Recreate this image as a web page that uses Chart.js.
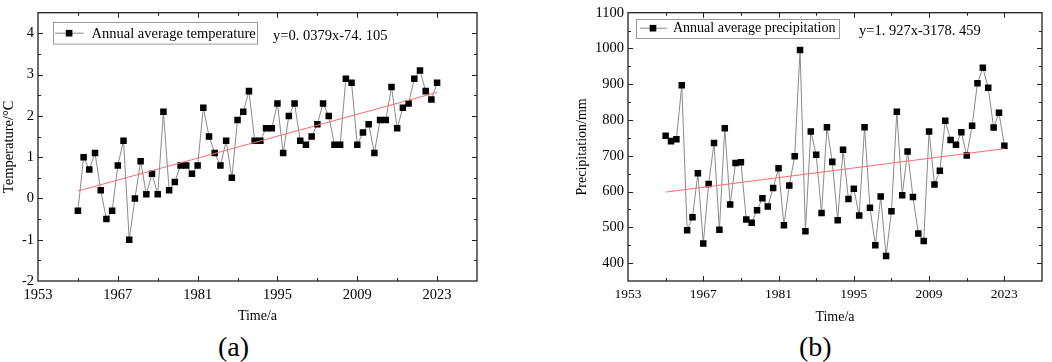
<!DOCTYPE html>
<html>
<head>
<meta charset="utf-8">
<script src="https://cdn.jsdelivr.net/npm/chart.js@4.4.0/dist/chart.umd.min.js"></script>
<style>
  body { margin: 0; background: #fff; width: 1052px; height: 362px; overflow: hidden; position: relative; }
  canvas { position: absolute; top: 0; }
  #tempChart { left: 0; }
  #precipChart { left: 560px; }
  .cap { position: absolute; top: 331px; font: 28px "Liberation Serif", "Times New Roman", serif; line-height: 32px; color: #000; }
</style>
</head>
<body>
<canvas id="tempChart" width="500" height="330"></canvas>
<canvas id="precipChart" width="492" height="330"></canvas>
<div class="cap" style="left:218px">(a)</div>
<div class="cap" style="left:799px">(b)</div>
<script>
const years = [
  1960, 1961, 1962, 1963, 1964, 1965, 1966, 1967, 1968, 1969,
  1970, 1971, 1972, 1973, 1974, 1975, 1976, 1977, 1978, 1979,
  1980, 1981, 1982, 1983, 1984, 1985, 1986, 1987, 1988, 1989,
  1990, 1991, 1992, 1993, 1994, 1995, 1996, 1997, 1998, 1999,
  2000, 2001, 2002, 2003, 2004, 2005, 2006, 2007, 2008, 2009,
  2010, 2011, 2012, 2013, 2014, 2015, 2016, 2017, 2018, 2019,
  2020, 2021, 2022, 2023
]
const temperature = [
  -0.3, 1.0, 0.7, 1.1, 0.2, -0.5, -0.3, 0.8, 1.4, -1.0,
  0.0, 0.9, 0.1, 0.6, 0.1, 2.1, 0.2, 0.4, 0.8, 0.8,
  0.6, 0.8, 2.2, 1.5, 1.1, 0.8, 1.4, 0.5, 1.9, 2.1,
  2.6, 1.4, 1.4, 1.7, 1.7, 2.3, 1.1, 2.0, 2.3, 1.4,
  1.3, 1.5, 1.8, 2.3, 2.0, 1.3, 1.3, 2.9, 2.8, 1.3,
  1.6, 1.8, 1.1, 1.9, 1.9, 2.7, 1.7, 2.2, 2.3, 2.9,
  3.1, 2.6, 2.4, 2.8
]
const precipitation = [
  756, 741, 746, 897, 492, 528, 651, 455, 621, 736,
  493, 777, 564, 680, 682, 522, 513, 548, 581, 558,
  610, 665, 506, 617, 699, 996, 489, 768, 703, 540,
  780, 683, 520, 717, 579, 608, 533, 780, 555, 450,
  586, 420, 545, 823, 590, 712, 585, 483, 462, 768,
  620, 658, 798, 744, 731, 766, 701, 784, 903, 946,
  890, 779, 820, 728
]
// fitted lines, end points only
const trendYears = [1960, 2023]
const tempTrend = [0.18, 2.57]
const precipTrend = [598.5, 719.9]

const yearTicks = [1953, 1967, 1981, 1995, 2009, 2023]
const tempTicks = [-2, -1, 0, 1, 2, 3, 4]
const precipTicks = [400, 500, 600, 700, 800, 900, 1000, 1100]

const serif = '"Liberation Serif", "Times New Roman", serif'

// box, inward ticks on all sides, legend and equation
const framePlugin = {
  id: "frame",
  afterDraw(chart, args, o) {
    const { ctx, chartArea: a, scales: { x, y } } = chart
    ctx.save()
    ctx.strokeStyle = "#222"
    ctx.lineWidth = 1
    ctx.beginPath()
    for (let v = x.min + o.xMinor; v < x.max - 1e-6; v += o.xMinor) {
      const px = Math.round(x.getPixelForValue(v)) + 0.5
      const len = Math.abs((v - x.min) % o.xMajor) < 1e-6 ? 5 : 3
      ctx.moveTo(px, a.bottom); ctx.lineTo(px, a.bottom - len)
      ctx.moveTo(px, a.top); ctx.lineTo(px, a.top + len)
    }
    for (let v = y.min + o.yMinor; v < y.max - 1e-6; v += o.yMinor) {
      const py = Math.round(y.getPixelForValue(v)) + 0.5
      const r = Math.abs(Math.round(v / o.yMajor) * o.yMajor - v) < 1e-6
      const len = r ? 5 : 3
      ctx.moveTo(a.left, py); ctx.lineTo(a.left + len, py)
      ctx.moveTo(a.right, py); ctx.lineTo(a.right - len, py)
    }
    ctx.stroke()
    ctx.lineWidth = 1.3
    ctx.strokeRect(a.left, a.top, a.right - a.left, a.bottom - a.top)

    // legend
    const L = o.legend
    const lx = a.left + L.dx, ly = a.top + L.dy
    ctx.fillStyle = "#fff"
    ctx.fillRect(lx, ly, L.w, L.h)
    ctx.strokeStyle = "#999"
    ctx.lineWidth = 1
    ctx.strokeRect(Math.round(lx) + 0.5, Math.round(ly) + 0.5, L.w, L.h)
    const my = ly + L.h / 2
    ctx.strokeStyle = "#8a8a8a"
    ctx.beginPath()
    ctx.moveTo(lx + L.line[0], my); ctx.lineTo(lx + L.line[1], my)
    ctx.stroke()
    ctx.fillStyle = "#000"
    ctx.fillRect(lx + L.mark - 3.3, my - 3.3, 6.6, 6.6)
    ctx.font = L.size + "px " + serif
    ctx.textBaseline = "middle"
    ctx.textAlign = "left"
    ctx.fillText(L.text, lx + L.textX, my + 0.5)

    // equation
    ctx.font = "14.5px " + serif
    ctx.fillText(o.eq.text, a.left + o.eq.dx, a.top + o.eq.dy)
    ctx.restore()
  },
}

function makeChart(id, values, trend, opt) {
  const font = { family: serif, size: opt.tickSize }
  return new Chart(document.getElementById(id), {
    type: "line",
    data: {
      datasets: [
        {
          data: trendYears.map((yr, i) => ({ x: yr, y: trend[i] })),
          borderColor: "#ff6b6b",
          borderWidth: 1,
          pointRadius: 0,
        },
        {
          data: years.map((yr, i) => ({ x: yr, y: values[i] })),
          borderColor: "#8a8a8a",
          borderWidth: 1,
          pointStyle: "rect",
          pointRadius: 4.6,
          pointBorderWidth: 0,
          pointBackgroundColor: "#000",
          tension: 0,
        },
      ],
    },
    options: {
      responsive: false,
      animation: false,
      devicePixelRatio: 1,
      layout: { padding: opt.padding },
      plugins: {
        legend: { display: false },
        tooltip: { enabled: false },
        frame: opt.frame,
      },
      scales: {
        x: {
          type: "linear",
          min: 1953,
          max: 2030,
          afterBuildTicks: (s) => { s.ticks = yearTicks.map((v) => ({ value: v })) },
          afterFit: (s) => { s.height = opt.xHeight },
          grid: { display: false, drawTicks: false },
          border: { display: false },
          ticks: { color: "#000", font: { family: serif, size: opt.xTickSize }, padding: 5.5, maxRotation: 0, autoSkip: false, callback: (v) => String(v) },
          title: { display: true, text: "Time/a", color: "#000", font: { family: serif, size: 14 }, padding: { top: 0, bottom: opt.xTitlePad } },
        },
        y: {
          min: opt.yMin,
          max: opt.yMax,
          afterBuildTicks: (s) => { s.ticks = opt.yTicks.map((v) => ({ value: v })) },
          afterFit: (s) => { s.width = opt.yWidth },
          grid: { display: false, drawTicks: false },
          border: { display: false },
          ticks: { color: "#000", font, padding: 4, autoSkip: false, callback: (v) => String(v) },
          title: { display: true, text: opt.yTitle, color: "#000", font: { family: serif, size: opt.yTitleSize }, padding: { top: opt.yTitlePad, bottom: 0 } },
        },
      },
    },
    plugins: [framePlugin],
  })
}

makeChart("tempChart", temperature, tempTrend, {
  padding: { top: 1, right: 23, bottom: 0, left: 0 },
  tickSize: 14.5,
  xTickSize: 14.5,
  xHeight: 49,
  xTitlePad: 5,
  yMin: -2,
  yMax: 4.5,
  yTicks: tempTicks,
  yWidth: 38,
  yTitle: "Temperature/°C",
  yTitleSize: 14.5,
  yTitlePad: 0,
  frame: {
    xMinor: 7, xMajor: 14, yMinor: 0.5, yMajor: 1,
    legend: { dx: 14.5, dy: 9.7, w: 204, h: 21.6, line: [2.5, 31], mark: 16.6, textX: 39, size: 14.5, text: "Annual average temperature" },
    eq: { dx: 235, dy: 23, text: "y=0. 0379x-74. 105" },
  },
})

makeChart("precipChart", precipitation, precipTrend, {
  padding: { top: 9, right: 10, bottom: 0, left: 0 },
  tickSize: 14.5,
  xTickSize: 13.5,
  xHeight: 49,
  xTitlePad: 4,
  yMin: 350,
  yMax: 1100,
  yTicks: precipTicks,
  yWidth: 68,
  yTitle: "Precipitation/mm",
  yTitleSize: 14,
  yTitlePad: 14,
  frame: {
    xMinor: 7, xMajor: 14, yMinor: 50, yMajor: 100,
    legend: { dx: 8, dy: 6, w: 203, h: 19, line: [4, 31], mark: 17, textX: 37, size: 14, text: "Annual average precipitation" },
    eq: { dx: 231, dy: 18, text: "y=1. 927x-3178. 459" },
  },
})
</script>
</body>
</html>
